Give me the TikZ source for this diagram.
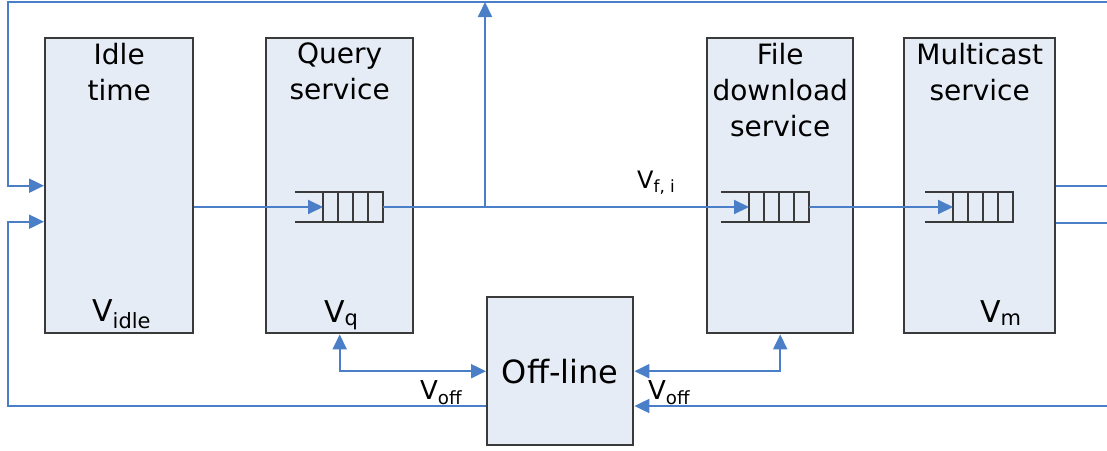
\documentclass[tikz,border=0pt]{standalone}
\usepackage{fontspec}
\setmainfont{DejaVu Sans}
\usetikzlibrary{arrows.meta}
\definecolor{qsblue}{HTML}{4A7EC7}
\definecolor{qsfill}{HTML}{E6ECF6}
\definecolor{qsgrey}{HTML}{3A3A3A}

% queue: name, left x, centre y
\newcommand{\qsqueue}[3]{%
  \coordinate (#1in) at (#2+28,#3);
  \coordinate (#1out) at (#2+88,#3);
  \draw[qline] (#2,#3-15) -- (#2+88,#3-15) -- (#2+88,#3+15) -- (#2,#3+15);
  \foreach \k in {28,43,58,73} \draw[qline] (#2+\k,#3-15) -- (#2+\k,#3+15);
}

\begin{document}
\begin{tikzpicture}[x=1pt, y=-1pt,
        box/.style={draw=qsgrey, fill=qsfill, line width=2.4pt, anchor=north west, inner sep=0pt},
        ttl/.style={font=\fontsize{28}{36}\selectfont, align=center, anchor=north, inner sep=0pt},
        vlbl/.style={font=\fontsize{30}{30}\selectfont, anchor=base west, inner sep=0pt},
        flow/.style={draw=qsblue, line width=2pt, -{Triangle[length=15pt, width=14pt]}},
        both/.style={flow, {Triangle[length=15pt, width=14pt]}-{Triangle[length=15pt, width=14pt]}},
        link/.style={draw=qsblue, line width=2pt},
        qline/.style={draw=qsgrey, line width=2.2pt},
      ]
      \useasboundingbox (0,0) rectangle (1107,450);

      % Service boxes
      \node[box, minimum width=148pt, minimum height=295pt] (idle) at (44,37) {};
      \node[box, minimum width=147pt, minimum height=295pt] (query) at (265,37) {};
      \node[box, minimum width=146pt, minimum height=295pt] (fdown) at (706,37) {};
      \node[box, minimum width=151pt, minimum height=295pt] (mcast) at (903,37) {};
      \node[box, minimum width=146pt, minimum height=148pt,
        font=\fontsize{32}{32}\selectfont] (offline) at (486,296) {Off-line};

      % Box titles
      \node[ttl] (idlet) at ([yshift=-6pt]idle.north) {Idle\\time};
      \node[ttl] (queryt) at ([yshift=-6pt]query.north) {Query\\service};
      \node[ttl] (fdownt) at ([yshift=-6pt]fdown.north) {File\\download\\service};
      \node[ttl] (mcastt) at ([yshift=-6pt]mcast.north) {Multicast\\service};

      % Queues
      \qsqueue{qq}{295}{207}
      \qsqueue{fq}{721}{207}
      \qsqueue{mq}{925}{207}

      % Main flow
      \coordinate (split) at (485,207);
      \draw[flow] (qqin -| idle.east) -- (qqin);
      \draw[link] (qqout) -- (split);
      \draw[flow] (split) -- (fqin);
      \draw[flow] (fqout) -- (mqin);

      % Feedback over the top
      \coordinate (topl) at (8,2);
      \coordinate (topr) at (1107,2);
      \draw[flow] (split) -- (split |- topl);
      \draw[flow] (topr) -- (topl) |- (idle.west);

      % Multicast outputs
      \coordinate (mout) at ([yshift=-37pt]mcast.east);
      \draw[link] (mcast.east) -- (mcast.east -| topr);
      \draw[link] (mout) -- (mout -| topr);

      % Off-line links
      \coordinate (botl) at (8,406);
      \coordinate (botr) at (1107,406);
      \draw[flow] (offline.west |- botl) -- (botl) |- ([yshift=-36pt]idle.west);
      \draw[flow] (botr) -- (botr -| offline.east);
      \draw[both] (query.south) |- (offline.west);
      \draw[both] (fdown.south) |- (offline.east);

      % Rate labels
      \node[vlbl] (vidle) at (92,321) {V\textsubscript{idle}};
      \node[vlbl] (vq) at (324,322) {V\textsubscript{q}};
      \node[vlbl] (vm) at (980,322) {V\textsubscript{m}};
      \node[vlbl, font=\fontsize{24}{24}\selectfont] (vfi) at (637,188) {V\textsubscript{f, i}};
      \node[vlbl, font=\fontsize{26}{26}\selectfont] (voffl) at (420,399) {V\textsubscript{off}};
      \node[vlbl, font=\fontsize{26}{26}\selectfont] (voffr) at (648,399) {V\textsubscript{off}};
    \end{tikzpicture}
\end{document}
